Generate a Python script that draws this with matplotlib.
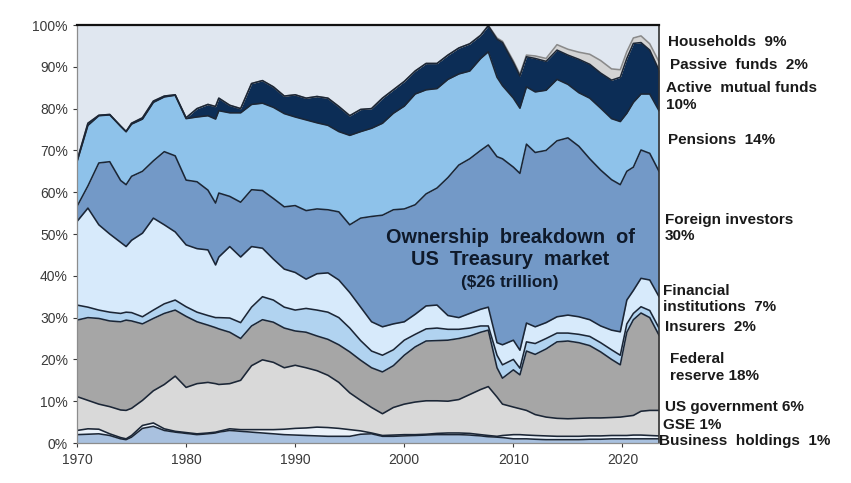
import numpy as np
import matplotlib.pyplot as plt
from matplotlib.ticker import FuncFormatter

plt.rcParams['font.family'] = ['Liberation Sans', 'DejaVu Sans']

# anos (trimestres aproximados nos pontos de virada)
anos = [1970, 1971, 1972, 1973, 1974, 1974.5, 1975, 1976, 1977, 1978, 1979, 1980, 1981, 1982, 1982.7,
        1983, 1984, 1985, 1986, 1987, 1988, 1989, 1990, 1991, 1992, 1993, 1994, 1995, 1996, 1997,
        1998, 1999, 2000, 2001, 2002, 2003, 2004, 2005, 2006, 2007, 2007.7, 2008.5, 2009, 2010,
        2010.6, 2011.2, 2012, 2013, 2014, 2015, 2016, 2017, 2018, 2019, 2019.8, 2020.4, 2021,
        2021.7, 2022.5, 2023.35]

# limites acumulados (% do total), de baixo para cima
topo_business = [2.0, 2.1, 2.2, 1.8, 1.0, 0.8, 1.4, 3.5, 4.0, 3.0, 2.6, 2.3, 2.0, 2.2, 2.4,
                 2.6, 3.0, 2.8, 2.6, 2.4, 2.2, 2.0, 1.9, 1.8, 1.7, 1.6, 1.6, 1.6, 2.1, 2.2,
                 1.6, 1.6, 1.7, 1.8, 1.9, 2.0, 2.0, 2.0, 1.9, 1.7, 1.5, 1.4, 1.3, 1.0,
                 1.0, 1.0, 0.9, 0.8, 0.8, 0.8, 0.8, 0.9, 0.9, 1.0, 1.0, 1.0, 1.0,
                 1.0, 1.0, 1.0]
topo_gse = [3.0, 3.4, 3.3, 2.2, 1.3, 1.0, 1.8, 4.2, 4.8, 3.4, 2.8, 2.5, 2.2, 2.4, 2.6,
            2.8, 3.4, 3.2, 3.2, 3.2, 3.2, 3.3, 3.5, 3.6, 3.8, 3.7, 3.5, 3.2, 2.9, 2.4,
            1.8, 1.9, 2.0, 2.0, 2.1, 2.3, 2.4, 2.4, 2.3, 2.0, 1.8, 1.6, 1.8, 2.0,
            2.0, 1.9, 1.8, 1.7, 1.6, 1.6, 1.6, 1.7, 1.7, 1.8, 1.8, 1.8, 1.9,
            1.9, 1.8, 1.7]
topo_usgov = [11.1, 10.2, 9.3, 8.7, 7.9, 7.8, 8.3, 10.2, 12.5, 14.0, 16.0, 13.3, 14.2, 14.5, 14.2,
              14.0, 14.2, 15.0, 18.5, 19.9, 19.3, 18.0, 18.6, 18.0, 17.3, 16.2, 14.5, 12.0, 10.2, 8.5,
              7.0, 8.5, 9.3, 9.8, 10.1, 10.1, 10.0, 10.4, 11.6, 12.8, 13.5, 11.0, 9.3, 8.6,
              8.2, 7.8, 6.8, 6.2, 5.9, 5.8, 5.9, 6.0, 6.0, 6.1, 6.2, 6.4, 6.6,
              7.6, 7.8, 7.8]
topo_fed = [29.4, 30.0, 29.8, 29.2, 29.0, 29.4, 29.2, 28.5, 29.8, 31.0, 31.8, 30.3, 29.0, 28.2, 27.6,
            27.3, 26.5, 25.0, 28.0, 29.5, 28.9, 27.5, 26.8, 26.5, 25.6, 24.8, 23.5, 21.8, 19.8, 18.0,
            17.0, 18.5, 21.0, 23.0, 24.4, 24.5, 24.6, 25.0, 25.6, 26.5, 27.0, 18.0, 15.5, 17.5,
            16.3, 22.0, 21.2, 22.5, 24.2, 24.4, 24.0, 23.3, 21.8, 20.0, 18.7, 26.5, 29.5,
            31.1, 30.0, 25.8]
topo_insurers = [33.0, 32.5, 31.8, 31.3, 31.0, 31.3, 31.2, 30.2, 31.8, 33.3, 34.2, 32.6, 31.3, 30.5, 30.0,
                 30.0, 29.9, 28.8, 32.5, 35.0, 34.2, 32.5, 31.8, 32.2, 31.8, 31.3, 30.0, 27.5, 24.5, 22.0,
                 21.0, 22.3, 24.6, 26.0, 27.3, 27.5, 27.2, 27.2, 27.5, 28.0, 28.0, 21.0, 18.7, 20.0,
                 17.9, 24.2, 23.8, 25.0, 26.3, 26.3, 26.0, 25.5, 24.0, 22.3, 21.0, 28.5, 31.0,
                 32.6, 31.7, 27.5]
topo_financial = [53.0, 56.2, 52.2, 50.0, 48.0, 47.0, 48.5, 50.2, 53.8, 52.2, 50.5, 47.4, 46.5, 46.2, 42.6,
                  44.5, 47.0, 44.5, 47.0, 46.6, 44.0, 41.6, 40.8, 39.2, 40.5, 40.7, 39.0, 36.0, 32.5, 29.0,
                  27.8, 28.5, 29.0, 30.8, 32.8, 33.0, 30.5, 30.0, 31.0, 32.0, 32.5, 24.0, 23.5, 24.6,
                  22.2, 28.7, 27.8, 28.8, 30.2, 30.6, 30.2, 29.5, 28.0, 27.0, 26.6, 34.2, 36.5,
                  39.4, 39.0, 35.0]
topo_foreign = [56.6, 61.5, 67.0, 67.3, 62.8, 61.8, 63.8, 65.0, 67.5, 69.7, 68.7, 62.9, 62.5, 60.5, 57.4,
                59.8, 59.0, 57.6, 60.6, 60.4, 58.5, 56.5, 56.8, 55.6, 56.0, 55.8, 55.3, 52.2, 53.8, 54.2,
                54.5, 55.8, 56.0, 57.0, 59.6, 61.0, 63.5, 66.5, 68.0, 70.0, 71.3, 68.5, 68.0, 66.0,
                64.5, 71.5, 69.5, 70.0, 72.3, 73.0, 71.0, 68.0, 65.3, 63.0, 61.8, 65.0, 66.0,
                70.1, 69.3, 65.0]
topo_pensions = [67.3, 76.0, 78.3, 78.5, 75.8, 74.5, 76.3, 77.5, 81.5, 82.8, 83.2, 77.6, 78.0, 78.3, 77.5,
                 79.5, 79.0, 79.0, 81.0, 81.3, 80.3, 78.8, 78.0, 77.3, 76.6, 76.0, 74.5, 73.6, 74.5, 75.3,
                 76.5, 78.9, 80.6, 83.5, 84.5, 84.8, 87.0, 88.3, 89.0, 92.0, 93.6, 87.5, 85.5, 82.5,
                 80.1, 85.2, 84.0, 84.4, 87.0, 85.8, 83.8, 82.5, 80.1, 77.6, 76.9, 78.9, 81.5,
                 83.5, 83.5, 79.5]
topo_active = [67.5, 76.5, 78.4, 78.6, 75.8, 74.5, 76.5, 77.8, 81.8, 83.0, 83.3, 77.8, 80.0, 81.0, 80.5,
               82.5, 80.8, 80.0, 86.0, 86.7, 85.2, 83.0, 83.3, 82.5, 82.9, 82.5, 80.5, 78.3, 79.8, 80.0,
               82.5, 84.5, 86.5, 89.0, 90.8, 90.8, 92.8, 94.5, 95.5, 97.5, 99.8, 96.6, 95.8, 91.0,
               87.8, 92.4, 92.0, 91.3, 94.0, 92.8, 91.8, 90.6, 88.5, 86.8, 87.5, 92.0, 95.6,
               95.8, 94.0, 89.2]
topo_passive = [67.5, 76.5, 78.4, 78.6, 75.8, 74.5, 76.5, 77.8, 81.8, 83.0, 83.3, 77.8, 80.0, 81.0, 80.5,
                82.5, 80.8, 80.0, 86.0, 86.7, 85.2, 83.0, 83.3, 82.5, 82.9, 82.5, 80.5, 78.3, 79.8, 80.0,
                82.5, 84.5, 86.5, 89.0, 90.8, 90.8, 92.8, 94.5, 95.5, 97.6, 99.9, 96.9, 96.1, 91.4,
                88.2, 92.8, 92.6, 92.0, 95.3, 94.2, 93.5, 93.0, 91.5, 89.5, 89.3, 93.6, 96.9,
                97.4, 95.5, 91.2]
topo_households = [100.0] * len(anos)

camadas = [
    (topo_business, '#a9c1df', 'Business  holdings  1%'),
    (topo_gse, '#eaf1f9', 'GSE 1%'),
    (topo_usgov, '#d9d9d9', 'US government 6%'),
    (topo_fed, '#a6a6a6', 'Federal\nreserve 18%'),
    (topo_insurers, '#b1d3f0', 'Insurers  2%'),
    (topo_financial, '#d7eafb', 'Financial\ninstitutions  7%'),
    (topo_foreign, '#7399c7', 'Foreign investors\n30%'),
    (topo_pensions, '#8ec2ea', 'Pensions  14%'),
    (topo_active, '#0c2d56', 'Active  mutual funds\n10%'),
    (topo_passive, '#d4d4d4', 'Passive  funds  2%'),
    (topo_households, '#e0e7f0', 'Households  9%'),
]

x = np.array(anos)
fig = plt.figure(figsize=(8.51, 4.83), dpi=100)
ax = fig.add_axes([0.0905, 0.0828, 0.6839, 0.8654])

base = np.zeros(len(anos))
for topo, cor, nome in camadas:
    topo = np.array(topo)
    ax.fill_between(x, base, topo, color=cor, linewidth=0, zorder=1)
    base = topo

# linhas de contorno
for topo, cor, nome in camadas[:-1]:
    cor_linha = '#8a8a8a' if nome.startswith('Passive') else '#1b2636'
    ax.plot(x, topo, color=cor_linha, linewidth=1.15, zorder=3 if cor_linha != '#8a8a8a' else 2)

# rotulos a direita (posicao em y do grafico original)
pos_rotulos = [(440.7, 659), (425, 663), (407, 665), (367.5, 670), (327, 665), (299, 663),
               (228, 665), (140, 668), (96.5, 666), (65, 670), (41.5, 668)]
for (topo, cor, nome), (py, px) in zip(camadas, pos_rotulos):
    fig.text(px / 851, 1 - py / 483, nome, fontsize=11, fontweight='bold', color='#1a1a1a',
             ha='left', va='center', linespacing=1.2)

ax.text(2009.7, 46.5, 'Ownership  breakdown  of\nUS  Treasury  market', fontsize=14.3,
        fontweight='bold', color='#0f1a2b', ha='center', va='center', linespacing=1.2, zorder=5)
ax.text(2009.7, 38.3, '($26 trillion)', fontsize=12.3, fontweight='bold', color='#0f1a2b',
        ha='center', va='center', zorder=5)

ax.set_xlim(1970, 2023.35)
ax.set_ylim(0, 100)
ax.set_xticks([1970, 1980, 1990, 2000, 2010, 2020])
ax.set_yticks(range(0, 101, 10))
ax.yaxis.set_major_formatter(FuncFormatter(lambda v, p: f'{v:.0f}%'))
ax.tick_params(axis='both', labelsize=10, colors='#3a3a3a', length=3, width=0.8)
ax.tick_params(axis='x', pad=4)

for lado in ['left', 'bottom']:
    ax.spines[lado].set_color('#8c8c8c')
    ax.spines[lado].set_linewidth(0.9)
ax.spines['top'].set_color('#111111')
ax.spines['top'].set_linewidth(1.6)
ax.spines['right'].set_color('#333333')
ax.spines['right'].set_linewidth(1.2)
for s in ax.spines.values():
    s.set_zorder(6)

plt.savefig('out.png', dpi=100)
